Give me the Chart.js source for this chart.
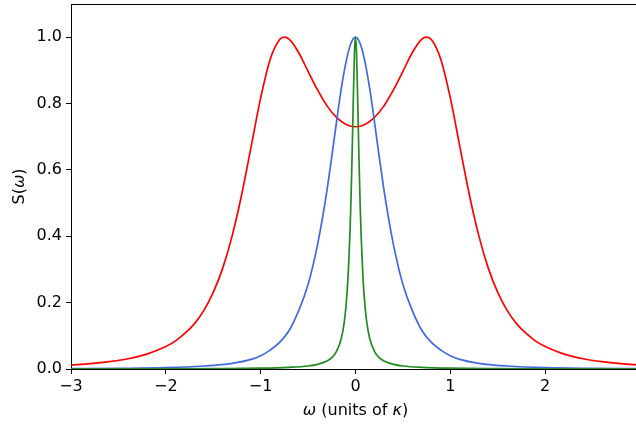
<!DOCTYPE html>
<html>
<head>
<meta charset="utf-8">
<script src="https://cdn.jsdelivr.net/npm/chart.js@4.4.1/dist/chart.umd.min.js"></script>
<style>
  html, body { margin: 0; padding: 0; overflow: hidden; background: #fff; }
  #wrap { width: 640px; height: 424px; position: relative; }
</style>
</head>
<body>
<div id="wrap"><canvas id="spec"></canvas></div>
<script>
// tick labels
const xTicks = [-3, -2, -1, 0, 1, 2, 3];
const yTicks = [0, 0.2, 0.4, 0.6, 0.8, 1.0];

// red curve (double peak)
const redX = [-3.0, -2.8, -2.6, -2.4, -2.2, -2.0, -1.9, -1.8, -1.7, -1.6, -1.5, -1.4, -1.3, -1.2, -1.1, -1.0, -0.9, -0.8, -0.75, -0.7, -0.6, -0.5, -0.4, -0.3, -0.2, -0.1, 0,
              0.1, 0.2, 0.3, 0.4, 0.5, 0.6, 0.7, 0.75, 0.8, 0.9, 1.0, 1.1, 1.2, 1.3, 1.4, 1.5, 1.6, 1.7, 1.8, 1.9, 2.0, 2.2, 2.4, 2.6, 2.8, 3.0];
const redY = [0.012, 0.016, 0.022, 0.031, 0.045, 0.068, 0.084, 0.107, 0.136, 0.176, 0.231, 0.304, 0.402, 0.526, 0.671, 0.817, 0.933, 0.993, 1.0, 0.994, 0.954, 0.897, 0.841, 0.793, 0.758, 0.737, 0.730,
              0.737, 0.758, 0.793, 0.841, 0.897, 0.954, 0.994, 1.0, 0.993, 0.933, 0.817, 0.671, 0.526, 0.402, 0.304, 0.231, 0.176, 0.136, 0.107, 0.084, 0.068, 0.045, 0.031, 0.022, 0.016, 0.012];

// blue curve
const blueX = [-3.0, -2.5, -2.0, -1.6, -1.3, -1.1, -1.0, -0.9, -0.8, -0.7, -0.6, -0.5, -0.45, -0.4, -0.35, -0.3, -0.25, -0.2, -0.15, -0.1, -0.05, 0,
               0.05, 0.1, 0.15, 0.2, 0.25, 0.3, 0.35, 0.4, 0.45, 0.5, 0.6, 0.7, 0.8, 0.9, 1.0, 1.1, 1.3, 1.6, 2.0, 2.5, 3.0];
const blueY = [0.001, 0.002, 0.004, 0.009, 0.017, 0.029, 0.04, 0.057, 0.08, 0.116, 0.175, 0.255, 0.31, 0.375, 0.452, 0.54, 0.64, 0.745, 0.845, 0.925, 0.98, 1.0,
               0.98, 0.925, 0.845, 0.745, 0.64, 0.54, 0.452, 0.375, 0.31, 0.255, 0.175, 0.116, 0.08, 0.057, 0.04, 0.029, 0.017, 0.009, 0.004, 0.002, 0.001];

// green curve (narrow)
const greenX = [-3.0, -2.0, -1.5, -1.0, -0.7, -0.5, -0.4, -0.3, -0.25, -0.2, -0.15, -0.12, -0.1, -0.08, -0.07, -0.06, -0.05, -0.04, -0.03, -0.02, -0.01, 0,
                0.01, 0.02, 0.03, 0.04, 0.05, 0.06, 0.07, 0.08, 0.1, 0.12, 0.15, 0.2, 0.25, 0.3, 0.4, 0.5, 0.7, 1.0, 1.5, 2.0, 3.0];
const greenY = [0.0003, 0.0006, 0.0011, 0.0024, 0.005, 0.009, 0.014, 0.024, 0.034, 0.053, 0.092, 0.138, 0.19, 0.27, 0.33, 0.40, 0.485, 0.595, 0.72, 0.85, 0.96, 1.0,
                0.96, 0.85, 0.72, 0.595, 0.485, 0.40, 0.33, 0.27, 0.19, 0.138, 0.092, 0.053, 0.034, 0.024, 0.014, 0.009, 0.005, 0.0024, 0.0011, 0.0006, 0.0003];

const xTitle = [['ω', true], [' (units of ', false], ['κ', true], [')', false]];
const yTitle = [['S(', false], ['ω', true], [')', false]];

Chart.defaults.font.family = '"DejaVu Sans", sans-serif';
Chart.defaults.font.size = 16;
Chart.defaults.color = '#000';

function pts(xs, ys) {
  return xs.map((x, i) => ({ x: x, y: ys[i] }));
}

function line(label, xs, ys, color, order) {
  return {
    label: label,
    data: pts(xs, ys),
    borderColor: color,
    borderWidth: 1.7,
    pointRadius: 0,
    fill: false,
    cubicInterpolationMode: 'monotone',
    order: order
  };
}

function drawParts(ctx, parts, cx, cy) {
  let w = 0;
  parts.forEach(p => {
    ctx.font = (p[1] ? 'italic ' : '') + '16px "DejaVu Sans"';
    w += ctx.measureText(p[0]).width;
  });
  let x = cx - w / 2;
  ctx.textAlign = 'left';
  parts.forEach(p => {
    ctx.font = (p[1] ? 'italic ' : '') + '16px "DejaVu Sans"';
    ctx.fillText(p[0], x, cy);
    x += ctx.measureText(p[0]).width;
  });
}

// top/right spines + axis titles
const frame = {
  id: 'frame',
  afterDatasetsDraw(chart) {
    const a = chart.chartArea, ctx = chart.ctx;
    ctx.save();
    ctx.strokeStyle = '#000';
    ctx.lineWidth = 1;
    ctx.beginPath();
    ctx.moveTo(a.left, a.top + 0.5);
    ctx.lineTo(a.right, a.top + 0.5);
    ctx.moveTo(a.right - 0.5, a.top);
    ctx.lineTo(a.right - 0.5, a.bottom);
    ctx.stroke();
    ctx.restore();
  },
  afterDraw(chart) {
    const a = chart.chartArea, ctx = chart.ctx;
    ctx.save();
    ctx.fillStyle = '#000';
    ctx.textBaseline = 'middle';
    drawParts(ctx, xTitle, (a.left + a.right) / 2, 411);
    ctx.translate(20, (a.top + a.bottom) / 2);
    ctx.rotate(-Math.PI / 2);
    drawParts(ctx, yTitle, 0, 0);
    ctx.restore();
  }
};

const config = {
  type: 'line',
  data: {
    datasets: [
      line('red', redX, redY, '#ff0000', 3),
      line('blue', blueX, blueY, '#4169e1', 2),
      line('green', greenX, greenY, '#228b22', 1)
    ]
  },
  options: {
    responsive: true,
    maintainAspectRatio: false,
    devicePixelRatio: 1,
    animation: false,
    layout: { padding: { top: 4, right: 0, left: 0, bottom: 0 } },
    plugins: { legend: { display: false }, tooltip: { enabled: false } },
    scales: {
      x: {
        type: 'linear',
        min: -3,
        max: 3,
        afterBuildTicks: s => { s.ticks = xTicks.map(v => ({ value: v })); },
        afterFit: s => { s.height = 55; s.paddingLeft = 0; s.paddingRight = 0; },
        ticks: {
          padding: 3,
          maxRotation: 0,
          autoSkip: false,
          callback: v => String(v).replace('-', '\u2212')
        },
        grid: { drawOnChartArea: false, drawTicks: true, tickLength: 5, tickColor: '#000', tickWidth: 1 },
        border: { display: true, color: '#000', width: 1 }
      },
      y: {
        type: 'linear',
        min: 0,
        max: 1.1,
        afterBuildTicks: s => { s.ticks = yTicks.map(v => ({ value: v })); },
        afterFit: s => { s.width = 71; s.paddingTop = 0; s.paddingBottom = 0; },
        ticks: {
          padding: 4,
          autoSkip: false,
          callback: v => v.toFixed(1)
        },
        grid: { drawOnChartArea: false, drawTicks: true, tickLength: 5, tickColor: '#000', tickWidth: 1 },
        border: { display: true, color: '#000', width: 1 }
      }
    }
  },
  plugins: [frame]
};

var spec = new Chart(document.getElementById('spec'), config);
</script>
</body>
</html>
